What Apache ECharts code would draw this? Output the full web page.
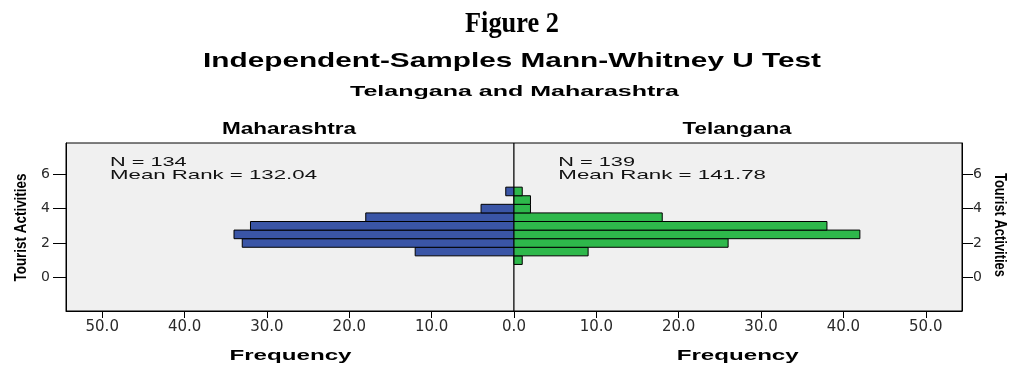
<!DOCTYPE html>
<html>
<head>
<meta charset="utf-8">
<script src="https://cdn.jsdelivr.net/npm/echarts@6/dist/echarts.min.js"></script>
<style>
  html, body { margin: 0; padding: 0; background: #ffffff; }
  #chart { width: 1011px; height: 370px; }
</style>
</head>
<body>
<div id="chart"></div>
<script>
// ---- Data ----
const binCenters = [1, 1.5, 2, 2.5, 3, 3.5, 4, 4.5, 5];
const binWidth = 0.5;
const maharashtraFreq = [0, 12, 33, 34, 32, 18, 4, 0, 1];
const telanganaFreq = [1, 9, 26, 42, 38, 18, 2, 2, 1];
const groupNames = ['Maharashtra', 'Telangana'];
const groupN = [134, 139];
const groupMeanRank = ['132.04', '141.78'];
const xTickValues = [0, 10, 20, 30, 40, 50];
const yTickValues = [0, 2, 4, 6];
const figureLabel = 'Figure 2';
const titleText = 'Independent-Samples Mann-Whitney U Test';
const subtitleText = 'Telangana and Maharashtra';
const yAxisName = 'Tourist Activities';
const xAxisName = 'Frequency';

// ---- Layout ----
const X_MAX = 54.4, Y_MIN = -1.96, Y_MAX = 7.82;
const BLUE = '#3a55a6', GREEN = '#2eb84b';

const mctx = document.createElement('canvas').getContext('2d');
function measure(text, font) { mctx.font = font; return mctx.measureText(text).width; }
function fitText(text, font, x, y, width, align, rotation, fill) {
  const s = width / measure(text, font);
  return {
    type: 'text', x: x, y: y, rotation: rotation || 0, scaleX: s, silent: true,
    style: { text: text, font: font, fill: fill || '#000',
      align: align, textAlign: align, verticalAlign: 'middle', textVerticalAlign: 'middle' }
  };
}

const SANS = "'Liberation Sans', Arial, sans-serif";
const NARROW = "'Liberation Sans Narrow', 'Arial Narrow', 'Liberation Sans', sans-serif";
const graphics = [
  fitText(figureLabel, "bold 29px 'Liberation Serif', 'Times New Roman', serif", 512, 24.7, 94, 'center'),
  fitText(titleText, 'bold 21px ' + SANS, 512, 60.8, 618, 'center'),
  fitText(subtitleText, 'bold 15px ' + SANS, 514.5, 92, 329, 'center'),
  fitText(groupNames[0], 'bold 16px ' + SANS, 289, 129.2, 134, 'center'),
  fitText(groupNames[1], 'bold 16px ' + SANS, 737, 129.2, 109, 'center'),
  fitText(xAxisName, 'bold 15px ' + SANS, 290.5, 355.8, 122, 'center'),
  fitText(xAxisName, 'bold 15px ' + SANS, 737.7, 355.8, 122, 'center'),
  fitText('N = ' + groupN[0], '13px ' + SANS, 110, 162, 76.7, 'left', 0, '#111'),
  fitText('Mean Rank = ' + groupMeanRank[0], '13px ' + SANS, 110, 175.7, 207, 'left', 0, '#111'),
  fitText('N = ' + groupN[1], '13px ' + SANS, 558.3, 162.8, 76.7, 'left', 0, '#111'),
  fitText('Mean Rank = ' + groupMeanRank[1], '13px ' + SANS, 558.3, 175, 207.7, 'left', 0, '#111'),
  fitText(yAxisName, 'bold 17px ' + NARROW, 21, 227.5, 108, 'center', Math.PI / 2),
  fitText(yAxisName, 'bold 17px ' + NARROW, 1000, 225, 104, 'center', -Math.PI / 2)
];

function makeRender(color) {
  return function (params, api) {
    const c = api.value(0), v = api.value(1);
    const a = api.coord([0, c + binWidth / 2]);
    const b = api.coord([v, c - binWidth / 2]);
    return {
      type: 'rect',
      shape: { x: Math.min(a[0], b[0]), y: a[1], width: Math.abs(b[0] - a[0]), height: b[1] - a[1] },
      style: { fill: color, stroke: '#000', lineWidth: 1 }
    };
  };
}
function toData(freq) {
  return binCenters.map((c, i) => [c, freq[i]]).filter(d => d[1] > 0);
}

const labelFont = { fontFamily: "'DejaVu Sans', sans-serif", color: '#2a2a2a' };
function xAxisCfg(gridIndex, inverse, tickVals) {
  return {
    gridIndex: gridIndex, type: 'value', min: 0, max: X_MAX, inverse: inverse, position: 'bottom',
    axisLine: { show: true, onZero: false, lineStyle: { color: '#000', width: 1 } },
    axisTick: { show: true, length: 7, customValues: tickVals, lineStyle: { color: '#000' } },
    axisLabel: Object.assign({ show: true, margin: 9, fontSize: 15, customValues: tickVals,
      formatter: v => Number(v).toFixed(1) }, labelFont),
    splitLine: { show: false }
  };
}
function yAxisCfg(gridIndex, position, tickLen, margin) {
  return {
    gridIndex: gridIndex, type: 'value', min: Y_MIN, max: Y_MAX, position: position,
    axisLine: { show: true, onZero: false, lineStyle: { color: '#000', width: 1 } },
    axisTick: { show: true, length: tickLen, customValues: yTickValues, lineStyle: { color: '#000' } },
    axisLabel: Object.assign({ show: true, margin: margin, fontSize: 14, customValues: yTickValues }, labelFont),
    splitLine: { show: false }
  };
}

const chart = echarts.init(document.getElementById('chart'), null, { renderer: 'canvas' });
chart.setOption({
  animation: false,
  backgroundColor: '#ffffff',
  grid: [
    { left: 66, top: 143, width: 448, height: 168, show: true, backgroundColor: '#f0f0f0', borderColor: '#000', borderWidth: 1 },
    { left: 514, top: 143, width: 448, height: 168, show: true, backgroundColor: '#f0f0f0', borderColor: '#000', borderWidth: 1 }
  ],
  xAxis: [
    xAxisCfg(0, true, xTickValues.filter(v => v > 0)),
    xAxisCfg(1, false, xTickValues)
  ],
  yAxis: [
    yAxisCfg(0, 'left', 13, 16),
    yAxisCfg(1, 'right', 11, 11)
  ],
  series: [
    { type: 'custom', name: groupNames[0], xAxisIndex: 0, yAxisIndex: 0, renderItem: makeRender(BLUE),
      data: toData(maharashtraFreq), encode: { x: 1, y: 0 } },
    { type: 'custom', name: groupNames[1], xAxisIndex: 1, yAxisIndex: 1, renderItem: makeRender(GREEN),
      data: toData(telanganaFreq), encode: { x: 1, y: 0 } }
  ],
  graphic: graphics
});
</script>
</body>
</html>
